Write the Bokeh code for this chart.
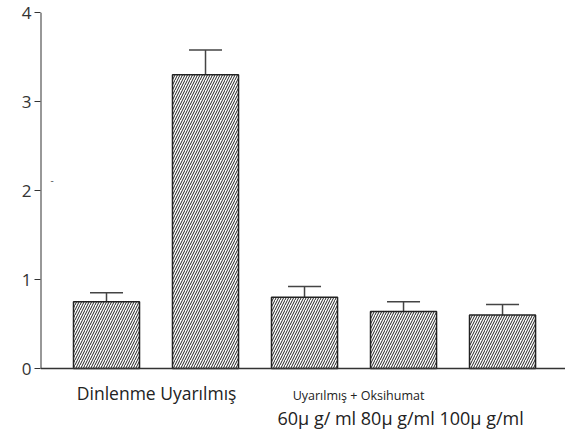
from bokeh.plotting import figure
from bokeh.models import ColumnDataSource, Whisker, Label, Range1d, FixedTicker, Span
from bokeh.embed import file_html
from bokeh.resources import INLINE

# data
groups = [1, 2, 3, 4, 5]
values = [0.75, 3.30, 0.80, 0.64, 0.60]
errors = [0.10, 0.28, 0.12, 0.11, 0.12]
y_ticks = [0, 1, 2, 3, 4]
label_main = "Dinlenme Uyarılmış"
label_group = "Uyarılmış + Oksihumat"
label_doses = "60µ g/ ml 80µ g/ml 100µ g/ml"

upper = [v + e for v, e in zip(values, errors)]
src = ColumnDataSource(dict(x=groups, top=values, upper=upper))

X0, X1 = 0.3333, 5.636
Y0, Y1 = -(434 - 368) / 89.0, 4.0
p = figure(width=565, height=434, output_backend="svg", toolbar_location=None,
           x_range=Range1d(X0, X1), y_range=Range1d(Y0, Y1),
           min_border_left=40, min_border_top=12, min_border_right=0, min_border_bottom=0)
p.outline_line_color = None
p.grid.visible = False
p.xaxis.visible = False
p.background_fill_color = "white"

p.vbar(x="x", top="top", width=0.667, source=src, fill_color="white",
       line_color="#222222", line_width=1.5,
       hatch_pattern="right_diagonal_line", hatch_color="#222222",
       hatch_scale=5, hatch_weight=1)

w = Whisker(source=src, base="x", lower="top", upper="upper",
            line_color="#444444", line_width=1.5, lower_head=None)
w.upper_head.size = 33
w.upper_head.line_color = "#444444"
w.upper_head.line_width = 1.5
p.add_layout(w)

# baseline and y-axis line (stopping at 0)
p.add_layout(Span(location=0, dimension="width", line_color="#333333", line_width=1.5))
p.segment(x0=[X0], y0=[0], x1=[X0], y1=[Y1], line_color="#333333", line_width=2)

ya = p.yaxis[0]
ya.ticker = FixedTicker(ticks=y_ticks)
ya.major_tick_out = 6
ya.major_tick_in = 0
ya.minor_tick_line_color = None
ya.axis_line_color = None
ya.major_tick_line_color = "#333333"
ya.major_tick_line_width = 1
ya.major_label_text_font = "Open Sans"
ya.major_label_text_font_size = "17px"
ya.major_label_text_color = "#333333"
ya.major_label_standoff = 3

def lab(txt, x, y, size):
    p.add_layout(Label(x=x, y=y, text=txt, text_font="Open Sans",
                       text_font_size=size, text_color="#222222",
                       text_baseline="alphabetic"))

lab(label_main, 0.70, -0.27, "17.5px")
lab(label_group, 2.88, -0.30, "12.5px")
lab(label_doses, 2.727, -0.56, "18px")

p.add_layout(Label(x=10, y=2.12, x_units="screen", text="-", text_font="Open Sans",
                   text_font_size="10px", text_color="#555555", text_baseline="middle"))

open("out.html", "w").write(file_html(p, INLINE))
